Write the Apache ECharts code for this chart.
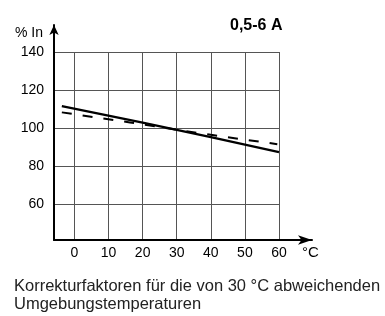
<!DOCTYPE html>
<html>
<head>
<meta charset="utf-8">
<script src="https://cdn.jsdelivr.net/npm/echarts@6/dist/echarts.min.js"></script>
<style>
html,body{margin:0;padding:0;background:#fff;}
#c{width:385px;height:316px;}
</style>
</head>
<body>
<div id="c"></div>
<script>
// ---- data ----
const solidTemp = [-3.7, 20, 40, 60];
const solidPct  = [111.6, 102.9, 95.3, 87.4];
const dashTemp  = [-3.7, 16.3, 40, 59.5];
const dashPct   = [108.3, 103.0, 96.5, 91.6];
const xTickValues = [0, 10, 20, 30, 40, 50, 60];
const yTickValues = [60, 80, 100, 120, 140];
const titleText = '0,5-6 A';
const yUnit = '% In';
const xUnit = '°C';
const captionLines = ['Korrekturfaktoren für die von 30 °C abweichenden', 'Umgebungstemperaturen'];

const FONT = '"Liberation Sans", Arial, Helvetica, sans-serif';
const zip = (a, b) => a.map((v, i) => [v, b[i]]);

const chart = echarts.init(document.getElementById('c'), null, {renderer: 'canvas'});
chart.setOption({
  animation: false,
  backgroundColor: '#fff',
  title: [
    {text: titleText, left: 225, top: 13,
     textStyle: {fontFamily: FONT, fontSize: 16, fontWeight: 'bold', color: '#000'}},
    {text: captionLines.join('\n'), left: 9, top: 272,
     textStyle: {fontFamily: FONT, fontSize: 16.5, fontWeight: 'normal', color: '#222', lineHeight: 18.5}}
  ],
  grid: [
    {left: 54, top: 52, width: 225, height: 188},
    {left: 54, top: 25, width: 258, height: 215}
  ],
  xAxis: [
    {gridIndex: 0, type: 'value', min: -6, max: 60, splitNumber: 7,
     axisLine: {show: false}, axisTick: {show: false},
     axisLabel: {showMinLabel: false, margin: 6, color: '#000', fontFamily: FONT, fontSize: 14,
       formatter: v => xTickValues.includes(v) ? String(v) : ''},
     splitLine: {show: true, lineStyle: {color: '#555', width: 1}}},
    {gridIndex: 1, type: 'value', min: 0, max: 1,
     axisLine: {show: true, symbol: ['none', 'arrow'], symbolSize: [7, 14],
       lineStyle: {color: '#000', width: 2}},
     axisTick: {show: false}, axisLabel: {show: false}, splitLine: {show: false}}
  ],
  yAxis: [
    {gridIndex: 0, type: 'value', min: 41.3, max: 140, splitNumber: 5,
     axisLine: {show: false}, axisTick: {show: false},
     axisLabel: {showMinLabel: false, margin: 10, color: '#000', fontFamily: FONT, fontSize: 14,
       formatter: v => yTickValues.includes(v) ? String(v) : ''},
     splitLine: {show: true, lineStyle: {color: '#555', width: 1}}},
    {gridIndex: 1, type: 'value', min: 0, max: 1,
     axisLine: {show: true, symbol: ['none', 'arrow'], symbolSize: [7, 10],
       lineStyle: {color: '#000', width: 2}},
     axisTick: {show: false}, axisLabel: {show: false}, splitLine: {show: false}}
  ],
  series: [
    {type: 'line', xAxisIndex: 0, yAxisIndex: 0, data: zip(solidTemp, solidPct),
     showSymbol: false, symbol: 'none', lineStyle: {color: '#000', width: 2.2, type: 'solid'}},
    {type: 'line', xAxisIndex: 0, yAxisIndex: 0, data: zip(dashTemp, dashPct),
     showSymbol: false, symbol: 'none', lineStyle: {color: '#000', width: 2, type: [10, 11]}}
  ],
  graphic: [
    {type: 'text', left: 15, top: 26,
     style: {text: yUnit, fontFamily: FONT, fontSize: 14, fill: '#000'}},
    {type: 'text', left: 302, top: 245,
     style: {text: xUnit, fontFamily: FONT, fontSize: 15, fill: '#000'}}
  ]
});
</script>
</body>
</html>
